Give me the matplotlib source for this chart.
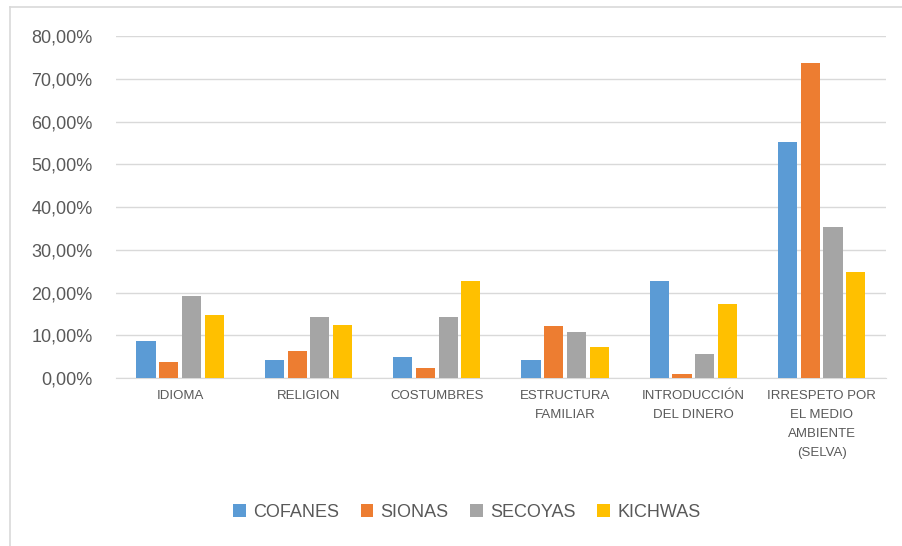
import numpy as np
import matplotlib.pyplot as plt
from matplotlib.lines import Line2D

plt.rcParams['font.family'] = ['Liberation Sans Narrow', 'Liberation Sans', 'DejaVu Sans']

categorias = ['IDIOMA', 'RELIGION', 'COSTUMBRES', 'ESTRUCTURA\nFAMILIAR',
              'INTRODUCCIÓN\nDEL DINERO', 'IRRESPETO POR\nEL MEDIO\nAMBIENTE\n(SELVA)']
grupos = ['COFANES', 'SIONAS', 'SECOYAS', 'KICHWAS']
cofanes = [8.6, 4.1, 5.0, 4.1, 22.6, 55.2]
sionas = [3.7, 6.3, 2.3, 12.1, 1.0, 73.7]
secoyas = [19.1, 14.3, 14.3, 10.8, 5.5, 35.3]
kichwas = [14.7, 12.5, 22.6, 7.2, 17.4, 24.8]
colores = ['#5b9bd5', '#ed7d31', '#a5a5a5', '#ffc000']

fig = plt.figure(figsize=(9.03, 5.46), dpi=100)
# chart frame, only left and top edges are visible in the crop
fig.lines.append(Line2D([0.0115, 0.0115], [0.0, 0.987], transform=fig.transFigure,
                        color='#d9d9d9', linewidth=1.2))
fig.lines.append(Line2D([0.0115, 1.0], [0.987, 0.987], transform=fig.transFigure,
                        color='#d9d9d9', linewidth=1.2))
ax = fig.add_axes([0.1285, 0.3077, 0.8525, 0.6263])

x = np.arange(len(categorias))
ancho = 0.15
paso = 0.177
for i, (serie, nombre) in enumerate(zip([cofanes, sionas, secoyas, kichwas], grupos)):
    ax.bar(x + (i - 1.5) * paso, serie, ancho, color=colores[i], label=nombre, zorder=3)

ax.set_xlim(-0.5, len(categorias) - 0.5)
ax.set_ylim(0, 80)
ax.set_yticks(np.arange(0, 81, 10))
ax.set_yticklabels(['%d,00%%' % v for v in range(0, 81, 10)], fontsize=13, color='#595959')
ax.set_xticks(x)
ax.set_xticklabels(categorias, fontsize=9.5, color='#595959', linespacing=1.75)
ax.tick_params(axis='both', length=0)
ax.tick_params(axis='y', pad=17)
ax.tick_params(axis='x', pad=9)
ax.grid(axis='y', color='#d9d9d9', linewidth=1, zorder=0)
for s in ['top', 'right', 'left']:
    ax.spines[s].set_visible(False)
ax.spines['bottom'].set_color('#d9d9d9')

fig.legend(loc='center', bbox_to_anchor=(0.517, 0.062), ncol=4, frameon=False,
           fontsize=13, handlelength=0.7, handleheight=0.7, handletextpad=0.4,
           columnspacing=1.2, labelcolor='#595959')

fig.savefig('out.png', dpi=100)
